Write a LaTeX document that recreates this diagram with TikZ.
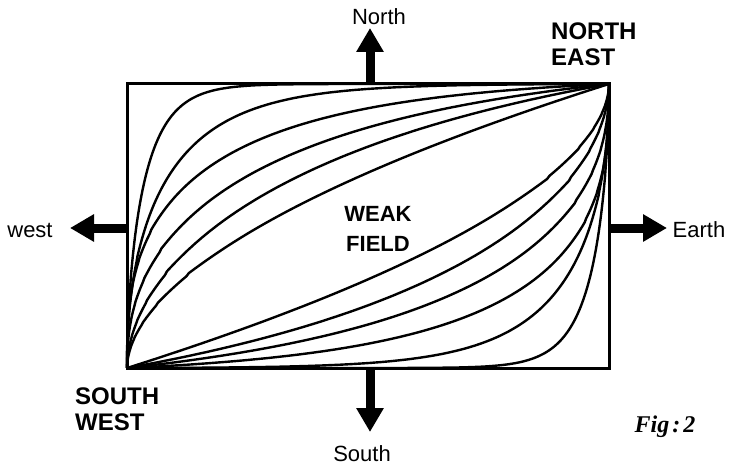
\documentclass[tikz,border=0pt]{standalone}
\usepackage{fontspec}
\setmainfont{Liberation Sans}
\newfontfamily\figfont{Liberation Serif}
\usetikzlibrary{arrows.meta}
\begin{document}
\begin{tikzpicture}[x=1pt,y=-1pt,
  field/.style={line width=2.4pt, line join=round},
  bigarrow/.style={line width=9pt, -{Triangle[width=26pt,length=24pt]}},
  lab/.style={font=\fontsize{22}{26}\selectfont, inner sep=0, anchor=base},
  blab/.style={font=\fontsize{24}{28}\selectfont\bfseries, inner sep=0, anchor=base west},
  clab/.style={font=\fontsize{22}{26}\selectfont\bfseries, inner sep=0, anchor=base}]
\useasboundingbox (0,0) rectangle (739,468);
\fill[white] (0,0) rectangle (739,468);
% field lines (upper family and its point-symmetric lower family)
\foreach \k/\a in {18/0.57, 6.5/0.465, 2.5/0.355, 1.5/0.43, 1/0.526} {
  \draw[field] (127,368) -- plot[domain=0.02:1, samples=140]
    ({127+482*\x*\x}, {368-284*pow((1-exp(-\k*\x*\x))/(1-exp(-\k)),\a)});
  \draw[field] (609,84) -- plot[domain=0.02:1, samples=140]
    ({609-482*\x*\x}, {84+284*pow((1-exp(-\k*\x*\x))/(1-exp(-\k)),\a)});
}
\draw[field] (127,368) -- plot[domain=0.02:1, samples=140]
    ({127+482*\x*\x}, {368-284*pow(\x*\x,0.54)});
\draw[field] (609,84) -- plot[domain=0.02:1, samples=140]
    ({609-482*\x*\x}, {84+284*pow(\x*\x,0.54)});
% frame
\node[draw, line width=3pt, minimum width=482pt, minimum height=284pt,
      inner sep=0, outer sep=0] (box) at (368,226) {};
% arrows
\coordinate (ntip) at (370,28);
\coordinate (stip) at (370,432);
\coordinate (wtip) at (70,228);
\coordinate (etip) at (667,228);
\draw[bigarrow] (ntip |- box.north) -- (ntip);
\draw[bigarrow] (stip |- box.south) -- (stip);
\draw[bigarrow] (box.west |- wtip) -- (wtip);
\draw[bigarrow] (box.east |- etip) -- (etip);
% labels
\node[lab] (north) at (379,25) {North};
\node[lab] (south) at (362,461) {South};
\node[lab] (west) at (30,237) {west};
\node[lab] (earth) at (699,237) {Earth};
\node[blab] (ne1) at (551,40) {NORTH};
\node[blab] (ne2) at (551,66) {EAST};
\node[blab] (sw1) at (75,404) {SOUTH};
\node[blab] (sw2) at (75,430) {WEST};
\node[clab] (wf1) at (378,221) {WEAK};
\node[clab] (wf2) at (378,251) {FIELD};
\node[inner sep=0, anchor=base, font=\figfont\fontsize{24}{28}\selectfont\itshape\bfseries] (fig)
  at (665,432) {Fig\kern3pt:\kern3pt2};
\end{tikzpicture}
\end{document}
